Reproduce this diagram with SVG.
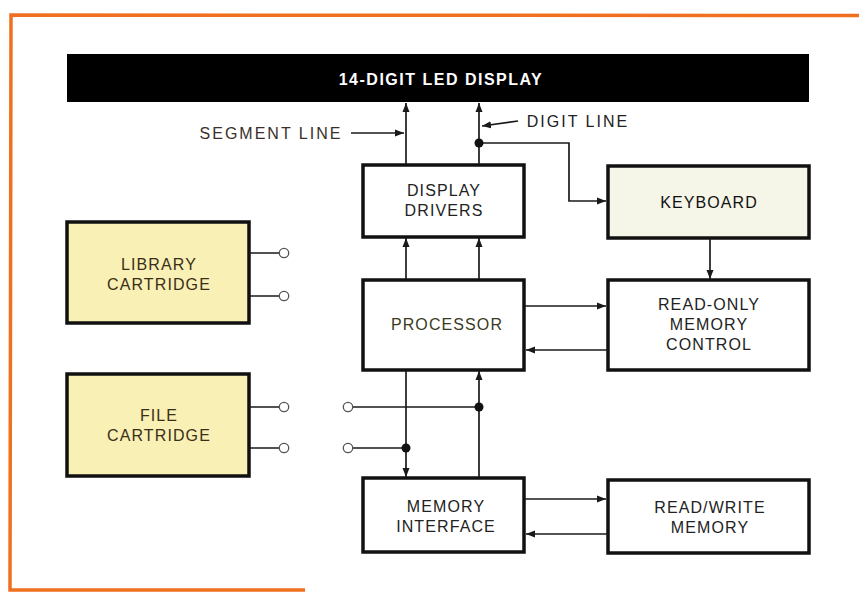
<svg xmlns="http://www.w3.org/2000/svg" width="859" height="592" viewBox="0 0 859 592">
<defs>
<marker id="ah" markerWidth="10" markerHeight="8" refX="9" refY="4" orient="auto" markerUnits="userSpaceOnUse">
<path d="M0,0.5 L9,4 L0,7.5 Z" fill="#1a1a1a"/>
</marker>
</defs>
<style>
.box{fill:#fff;stroke:#111;stroke-width:3.5}
.cart{fill:#f8f0b4;stroke:#111;stroke-width:3.5}
.kb{fill:#f5f5e8;stroke:#111;stroke-width:3.5}
.t{font-family:"Liberation Sans",Arial,sans-serif;font-size:16px;letter-spacing:1.1px;fill:#222;text-anchor:middle}
.tc{fill:#3a2e18}
.w{stroke:#1a1a1a;stroke-width:1.7;fill:none}
.a{marker-end:url(#ah)}
.pin{fill:#fff;stroke:#555;stroke-width:1.3}
.dot{fill:#111}
</style>
<rect width="859" height="592" fill="#fff"/>
<g id="frame" fill="none" stroke="#f07020" stroke-width="3.5">
<path d="M859,15.5 L11,15 L10,590 L305,590"/>
</g>
<g id="display">
<rect x="67" y="54" width="742" height="48" fill="#000"/>
<text x="441" y="85" style="font-family:'Liberation Sans',Arial,sans-serif;font-size:16px;font-weight:bold;letter-spacing:1.5px;fill:#fff;text-anchor:middle">14-DIGIT LED DISPLAY</text>
</g>
<g id="segment-label">
<text x="271" y="139" class="t" style="fill:#3a3028;letter-spacing:2px">SEGMENT LINE</text>
</g>
<g id="digit-label">
<text x="578" y="127" class="t" style="letter-spacing:2px">DIGIT LINE</text>
</g>
<g id="drivers">
<rect x="363" y="165" width="161" height="72" class="box"/>
<text x="444" y="196" class="t">DISPLAY</text>
<text x="444" y="216" class="t">DRIVERS</text>
</g>
<g id="keyboard">
<rect x="608" y="166" width="201" height="72" class="kb"/>
<text x="709" y="208" class="t" style="fill:#111">KEYBOARD</text>
</g>
<g id="processor">
<rect x="363" y="280" width="161" height="90" class="box"/>
<text x="447" y="330" class="t" style="fill:#3a3a22">PROCESSOR</text>
</g>
<g id="rom">
<rect x="608" y="280" width="201" height="90" class="box"/>
<text x="709" y="310" class="t">READ-ONLY</text>
<text x="709" y="330" class="t">MEMORY</text>
<text x="709" y="350" class="t">CONTROL</text>
</g>
<g id="library">
<rect x="67" y="222" width="182" height="101" class="cart"/>
<text x="159" y="270" class="t tc">LIBRARY</text>
<text x="159" y="290" class="t tc">CARTRIDGE</text>
</g>
<g id="file">
<rect x="67" y="374" width="182" height="102" class="cart"/>
<text x="159" y="421" class="t tc">FILE</text>
<text x="159" y="441" class="t tc">CARTRIDGE</text>
</g>
<g id="meminterface">
<rect x="363" y="478" width="161" height="74" class="box"/>
<text x="446" y="512" class="t">MEMORY</text>
<text x="446" y="532" class="t">INTERFACE</text>
</g>
<g id="rwmemory">
<rect x="608" y="480" width="201" height="73" class="box"/>
<text x="710" y="513" class="t">READ/WRITE</text>
<text x="710" y="533" class="t">MEMORY</text>
</g>
<g id="connectors">
<path class="w a" d="M351,133 L404,133"/>
<path class="w a" d="M518,121 L482,126"/>
<path class="w a" d="M406,164 L406,103"/>
<path class="w a" d="M479,164 L479,103"/>
<path class="w a" d="M479,143 L569,143 L569,201 L606,201"/>
<path class="w a" d="M406,279 L406,238"/>
<path class="w a" d="M479,279 L479,238"/>
<path class="w a" d="M710,238 L710,279"/>
<path class="w a" d="M525,306 L606,306"/>
<path class="w a" d="M608,350 L526,350"/>
<path class="w a" d="M525,499 L606,499"/>
<path class="w a" d="M608,534 L526,534"/>
<path class="w a" d="M406,371 L406,477"/>
<path class="w a" d="M479,477 L479,371"/>
<path class="w" d="M249,253 L279,253 M249,296 L279,296 M249,407 L279,407 M249,448 L279,448"/>
<path class="w" d="M353,407 L479,407 M353,448 L406,448"/>
<circle cx="479" cy="143" r="4.5" class="dot"/>
<circle cx="479" cy="407" r="4.5" class="dot"/>
<circle cx="406" cy="448" r="4.5" class="dot"/>
<circle cx="284" cy="253" r="4.7" class="pin"/>
<circle cx="284" cy="296" r="4.7" class="pin"/>
<circle cx="284" cy="407" r="4.7" class="pin"/>
<circle cx="284" cy="448" r="4.7" class="pin"/>
<circle cx="348" cy="407" r="4.7" class="pin"/>
<circle cx="348" cy="448" r="4.7" class="pin"/>
</g>
</svg>
